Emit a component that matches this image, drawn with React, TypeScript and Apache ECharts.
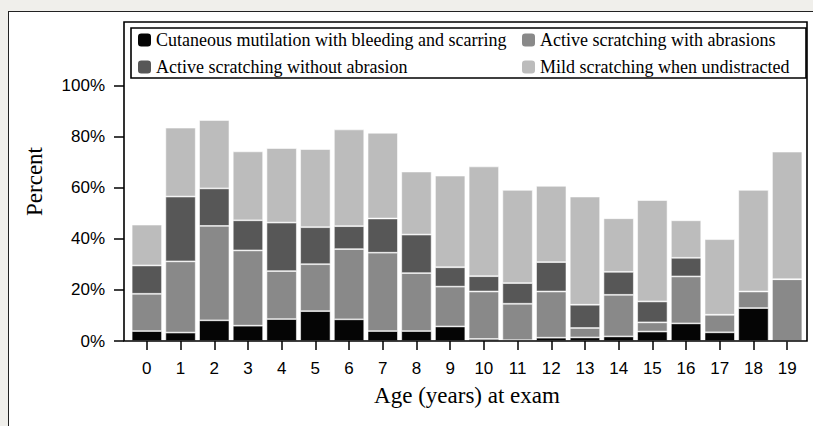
import React, { useEffect, useRef } from "react";
import * as echarts from "echarts";

const ages = ["0", "1", "2", "3", "4", "5", "6", "7", "8", "9", "10", "11", "12", "13", "14", "15", "16", "17", "18", "19"];
const seriesNames = [
  "Cutaneous mutilation with bleeding and scarring",
  "Active scratching with abrasions",
  "Active scratching without abrasion",
  "Mild scratching when undistracted",
];
const cutaneous = [3.9, 3.3, 8.1, 6.0, 8.6, 11.7, 8.5, 3.9, 3.9, 5.7, 0.8, 0.3, 1.3, 1.4, 1.8, 3.7, 6.9, 3.4, 12.9, 0];
const withAbrasions = [14.6, 27.9, 37.0, 29.5, 18.8, 18.4, 27.5, 30.7, 22.7, 15.6, 18.6, 14.3, 18.1, 3.7, 16.3, 3.6, 18.4, 6.9, 6.5, 24.2];
const withoutAbrasion = [11.1, 25.4, 14.7, 11.8, 19.0, 14.5, 9.0, 13.4, 15.1, 7.6, 6.0, 8.1, 11.5, 9.1, 9.0, 8.2, 7.3, 0, 0, 0];
const mild = [16.0, 27.0, 26.8, 27.0, 29.2, 30.6, 37.9, 33.6, 24.7, 35.9, 43.0, 36.5, 29.9, 42.4, 21.0, 39.7, 14.7, 29.6, 39.8, 50.0];
const yTicks = [0, 20, 40, 60, 80, 100];

const colors = ["#050505", "#898989", "#575757", "#bcbcbc"];
const serif = "'Liberation Serif', 'DejaVu Serif', serif";
const sans = "'Liberation Sans', Arial, sans-serif";

export default function App() {
  const ref = useRef<HTMLDivElement>(null);
  useEffect(() => {
    if (!ref.current) return;
    const chart = echarts.init(ref.current, undefined, { renderer: "svg" });
    const values = [cutaneous, withAbrasions, withoutAbrasion, mild];
    const legendText = { fontFamily: serif, fontSize: 18, color: "#000", lineHeight: 18 };
    chart.setOption({
      animation: false,
      backgroundColor: "transparent",
      grid: { left: 130, right: 9, top: 22, bottom: 85, containLabel: false },
      legend: [
        {
          data: [seriesNames[0], seriesNames[2]],
          orient: "vertical",
          left: 138,
          top: 31,
          padding: 0,
          itemWidth: 13,
          itemHeight: 13,
          itemGap: 9,
          selectedMode: false,
          textStyle: legendText,
          itemStyle: { borderWidth: 0 },
        },
        {
          data: [seriesNames[1], seriesNames[3]],
          orient: "vertical",
          left: 522,
          top: 31,
          padding: 0,
          itemWidth: 13,
          itemHeight: 13,
          itemGap: 9,
          selectedMode: false,
          textStyle: legendText,
          itemStyle: { borderWidth: 0 },
        },
      ],
      xAxis: {
        type: "category",
        data: ages,
        boundaryGap: true,
        name: "Age (years) at exam",
        nameLocation: "middle",
        nameGap: 43,
        nameTextStyle: { fontFamily: serif, fontSize: 23, color: "#000" },
        axisLine: { show: false },
        axisTick: { show: true, alignWithLabel: true, length: 9, lineStyle: { color: "#000", width: 1.5 } },
        axisLabel: { fontFamily: sans, fontSize: 17, color: "#000", margin: 19, interval: 0 },
        splitLine: { show: false },
      },
      yAxis: {
        type: "value",
        min: 0,
        max: 125,
        offset: 6,
        name: "Percent",
        nameLocation: "middle",
        nameGap: 78,
        nameTextStyle: { fontFamily: serif, fontSize: 23, color: "#000" },
        axisLine: { show: false },
        axisTick: { show: true, length: 10, customValues: yTicks, lineStyle: { color: "#000", width: 1.5 } },
        axisLabel: {
          fontFamily: sans,
          fontSize: 17,
          color: "#000",
          margin: 19,
          customValues: yTicks,
          formatter: (v: number) => `${v}%`,
        },
        splitLine: { show: false },
      },
      series: seriesNames.map((name, i) => ({
        name,
        type: "bar",
        stack: "total",
        data: values[i],
        barCategoryGap: "10%",
        itemStyle: { color: colors[i], borderColor: "rgba(255,255,255,0.7)", borderWidth: 0.8 },
        emphasis: { disabled: true },
      })),
      graphic: [
        {
          type: "rect",
          z: 100,
          shape: { x: 124, y: 22, width: 683, height: 319 },
          style: { fill: "none", stroke: "#000", lineWidth: 1.6 },
          silent: true,
        },
        {
          type: "rect",
          z: 100,
          shape: { x: 131, y: 28, width: 675, height: 50 },
          style: { fill: "none", stroke: "#000", lineWidth: 1.6 },
          silent: true,
        },
      ],
    });
    return () => chart.dispose();
  }, []);
  return (
    <div style={{ position: "absolute", left: 0, top: 0, width: 813, height: 426, background: "#f0efeb", overflow: "hidden" }}>
      <div
        style={{
          position: "absolute",
          left: 8,
          top: 11,
          width: 820,
          height: 430,
          background: "#fff",
          border: "1.5px solid #222",
        }}
      />
      <div ref={ref} style={{ position: "absolute", left: 0, top: 0, width: 813, height: 426 }} />
    </div>
  );
}
